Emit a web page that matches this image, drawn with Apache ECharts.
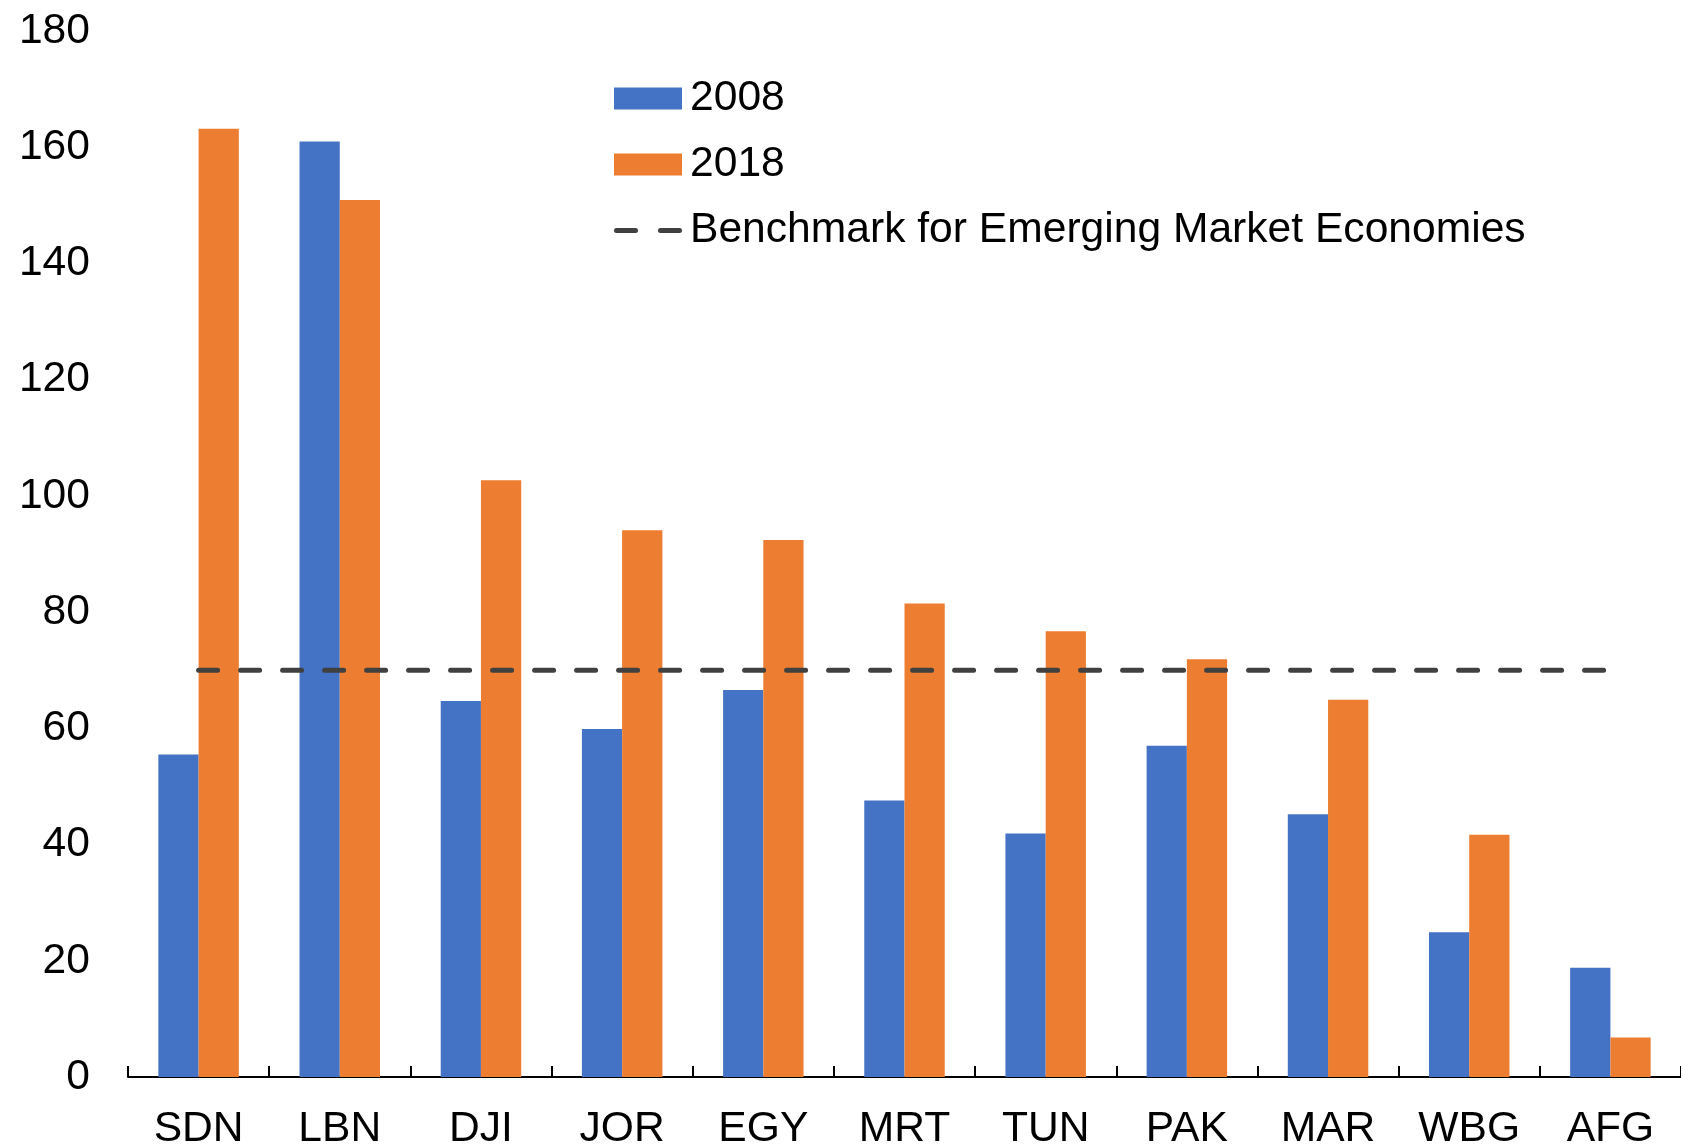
<!DOCTYPE html>
<html>
<head>
<meta charset="utf-8">
<script src="https://cdn.jsdelivr.net/npm/echarts@6/dist/echarts.min.js"></script>
<style>
  html, body { margin: 0; padding: 0; background: #fff; }
  #chart { width: 1681px; height: 1147px; }
</style>
</head>
<body>
<div id="chart"></div>
<script>
const categories = ['SDN', 'LBN', 'DJI', 'JOR', 'EGY', 'MRT', 'TUN', 'PAK', 'MAR', 'WBG', 'AFG']
const values2008 = [55.5, 161.0, 64.7, 59.9, 66.6, 47.6, 41.9, 57.0, 45.2, 24.9, 18.8]
const values2018 = [163.2, 150.9, 102.7, 94.1, 92.4, 81.5, 76.7, 71.9, 64.9, 41.7, 6.8]
const benchmark = [70, 70, 70, 70, 70, 70, 70, 70, 70, 70, 70]
const yTicks = { min: 0, max: 180, step: 20 }

const FONT = 'Liberation Sans, Arial, sans-serif'
const FONT_SIZE = 42.6
const BLUE = '#4472C4'
const ORANGE = '#ED7D31'
const DASH = '#404040'

// two rounded dashes for the benchmark legend entry
const DASH_ICON = 'path://M2.5,0h19a2.5,2.5 0 0 1 0,5h-19a2.5,2.5 0 0 1 0,-5z' +
  'M46.5,0h19a2.5,2.5 0 0 1 0,5h-19a2.5,2.5 0 0 1 0,-5z'

const chart = echarts.init(document.getElementById('chart'), null, { renderer: 'canvas' })

chart.setOption({
  animation: false,
  textStyle: { fontFamily: FONT },
  grid: { left: 128, right: 0, top: 31, bottom: 70, outerBoundsMode: 'none', containLabel: false },
  legend: {
    orient: 'vertical',
    left: 609,
    top: 72,
    itemWidth: 68,
    itemHeight: 22,
    itemGap: 23,
    symbolKeepAspect: true,
    textStyle: { fontFamily: FONT, fontSize: FONT_SIZE, color: '#000', lineHeight: 42, padding: [0, 0, 0, 3] },
    data: [
      { name: '2008', icon: 'rect' },
      { name: '2018', icon: 'rect' },
      { name: 'Benchmark for Emerging Market Economies', icon: DASH_ICON, itemStyle: { color: DASH } }
    ]
  },
  xAxis: {
    type: 'category',
    data: categories,
    axisLine: { show: true, lineStyle: { color: '#000', width: 2 } },
    axisTick: { show: true, inside: true, length: 11, interval: 0, lineStyle: { color: '#000', width: 2 } },
    axisLabel: { fontFamily: FONT, fontSize: FONT_SIZE, color: '#000', margin: 31, interval: 0 },
    splitLine: { show: false }
  },
  yAxis: {
    type: 'value',
    min: yTicks.min,
    max: yTicks.max,
    interval: yTicks.step,
    axisLine: { show: false },
    axisTick: { show: false },
    splitLine: { show: false },
    axisLabel: { fontFamily: FONT, fontSize: FONT_SIZE, color: '#000', margin: 38 }
  },
  series: [
    {
      name: '2008',
      type: 'bar',
      data: values2008,
      barGap: '0%',
      barCategoryGap: '43%',
      itemStyle: { color: BLUE }
    },
    {
      name: '2018',
      type: 'bar',
      data: values2018,
      barGap: '0%',
      barCategoryGap: '43%',
      itemStyle: { color: ORANGE }
    },
    {
      name: 'Benchmark for Emerging Market Economies',
      type: 'line',
      data: benchmark,
      symbol: 'none',
      z: 5,
      lineStyle: {
        color: DASH,
        width: 5,
        type: [19, 23],
        cap: 'round'
      },
      itemStyle: { color: DASH }
    }
  ]
})
</script>
</body>
</html>
